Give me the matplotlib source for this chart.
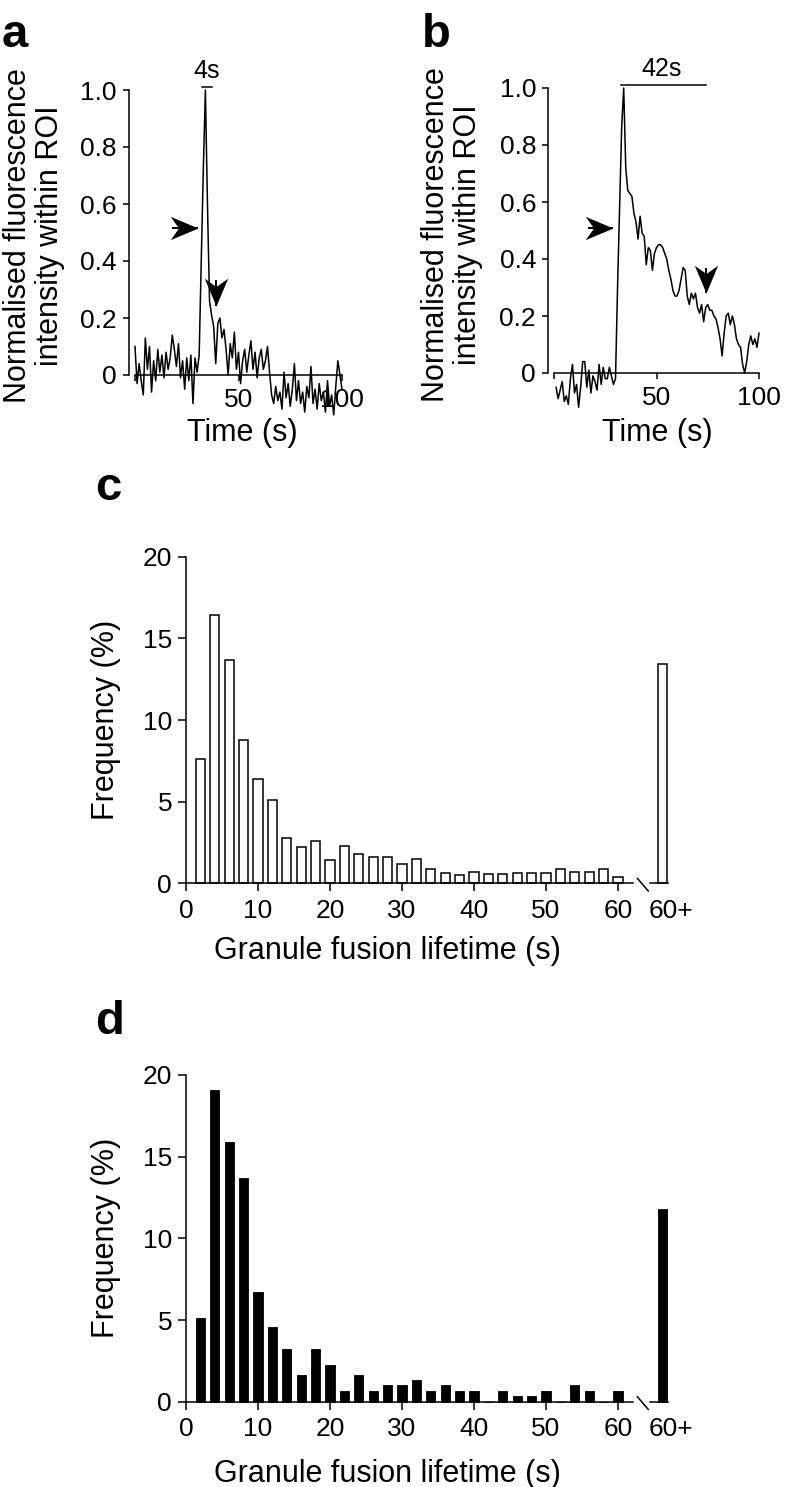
import numpy as np
import matplotlib
matplotlib.use('Agg')
import matplotlib.pyplot as plt
from matplotlib.path import Path

plt.rcParams['font.family'] = ['Liberation Sans', 'DejaVu Sans']

W, H = 786, 1487

# ---------------- data ----------------
time_a = np.arange(0, 101, 1)
trace_a = [0.10, -0.03, 0.04, -0.02, -0.07, 0.13, 0.02, 0.10, -0.06, 0.05,
           -0.02, 0.09, 0.01, 0.07, -0.01, 0.08, 0.02, 0.06, 0.14, 0.09,
           0.03, 0.11, -0.01, 0.05, -0.05, 0.06, -0.02, 0.07, -0.10, 0.06,
           0.01, 0.07, 0.40, 0.72, 1.00, 0.60, 0.26, 0.21, 0.17, 0.04,
           0.18, 0.20, 0.13, 0.16, 0.09, 0.00, 0.11, 0.06, 0.15, 0.02,
           0.08, -0.03, 0.05, 0.09, 0.01, 0.07, 0.12, 0.02, 0.08, -0.01,
           0.06, 0.09, 0.02, 0.05, 0.10, 0.01, -0.07, -0.10, -0.04, -0.09,
           -0.06, -0.12, 0.01, -0.08, -0.03, -0.11, -0.05, 0.04, -0.09, -0.02,
           -0.10, -0.06, -0.13, -0.04, -0.08, 0.03, -0.10, -0.05, -0.12, -0.03,
           -0.09, -0.06, -0.13, -0.02, -0.11, -0.07, -0.14, -0.04, 0.05, 0.00,
           -0.05]

time_b = np.arange(1, 101, 1)
trace_b = [-0.05, -0.09, -0.06, -0.03, -0.10, -0.08, -0.11, -0.02, 0.03, -0.07,
           -0.04, -0.12, -0.05, 0.04, 0.04, -0.05, 0.01, -0.07, -0.01, -0.03,
           -0.06, 0.03, -0.04, 0.02, -0.02, -0.02, 0.02, -0.01, -0.04, -0.02,
           0.30, 0.58, 0.86, 1.00, 0.72, 0.64, 0.63, 0.62, 0.56, 0.53,
           0.47, 0.55, 0.49, 0.48, 0.38, 0.44, 0.43, 0.36, 0.42, 0.44,
           0.45, 0.45, 0.44, 0.42, 0.40, 0.36, 0.33, 0.29, 0.27, 0.27,
           0.29, 0.33, 0.37, 0.36, 0.27, 0.24, 0.28, 0.26, 0.28, 0.23,
           0.21, 0.24, 0.18, 0.23, 0.24, 0.22, 0.22, 0.20, 0.19, 0.16,
           0.12, 0.06, 0.14, 0.20, 0.21, 0.17, 0.20, 0.17, 0.12, 0.10,
           0.09, 0.03, 0.00, 0.04, 0.10, 0.13, 0.10, 0.12, 0.09, 0.14]

bin_centers = np.arange(2, 61, 2)
freq_c = [7.6, 16.4, 13.7, 8.8, 6.4, 5.1, 2.75, 2.2, 2.6, 1.4,
          2.3, 1.8, 1.6, 1.6, 1.2, 1.5, 0.9, 0.65, 0.5, 0.7,
          0.55, 0.55, 0.65, 0.65, 0.65, 0.9, 0.7, 0.7, 0.9, 0.4]
freq_d = [5.1, 19.1, 15.9, 13.7, 6.7, 4.55, 3.25, 1.65, 3.25, 2.25,
          0.65, 1.65, 0.65, 1.0, 1.0, 1.3, 0.65, 1.0, 0.65, 0.65,
          0.0, 0.65, 0.33, 0.33, 0.65, 0.0, 1.0, 0.65, 0.0, 0.65]
overflow_c = 13.4
overflow_d = 11.8
overflow_label = '60+'

trace_yticks = [0, 0.2, 0.4, 0.6, 0.8, 1.0]
trace_yticklabels = ['0', '0.2', '0.4', '0.6', '0.8', '1.0']
trace_xticks = [0, 50, 100]
trace_xticklabels = ['', '50', '100']
hist_xticks = [0, 10, 20, 30, 40, 50, 60]
hist_yticks = [0, 5, 10, 15, 20]

# ---------------- helpers ----------------
fig = plt.figure(figsize=(W / 100, H / 100), dpi=100)
LW = 1.1


def px_axes(xlim, ylim, xref, yref):
    (v1, p1), (v2, p2) = xref
    sx = (p2 - p1) / (v2 - v1)
    l = p1 + (xlim[0] - v1) * sx
    r = p1 + (xlim[1] - v1) * sx
    (w1, q1), (w2, q2) = yref
    sy = (q2 - q1) / (w2 - w1)
    b = q1 + (ylim[0] - w1) * sy
    t = q1 + (ylim[1] - w1) * sy
    ax = fig.add_axes([l / W, 1 - b / H, (r - l) / W, (b - t) / H])
    ax.set_xlim(*xlim)
    ax.set_ylim(*ylim)
    ax.patch.set_visible(False)
    return ax


def ftext(x, y, s, **kw):
    fig.text(x / W, 1 - y / H, s, **kw)


def style_trace_axes(ax):
    for s in ['top', 'right']:
        ax.spines[s].set_visible(False)
    ax.spines['left'].set_bounds(0, 1)
    ax.spines['bottom'].set_position(('data', 0))
    ax.spines['bottom'].set_bounds(0, 100)
    for s in ['left', 'bottom']:
        ax.spines[s].set_linewidth(LW)
    ax.set_yticks(trace_yticks)
    ax.set_yticklabels(trace_yticklabels)
    ax.set_xticks(trace_xticks)
    ax.set_xticklabels(trace_xticklabels)
    ax.tick_params(axis='both', direction='out', length=4.5, width=LW,
                   labelsize=19)
    ax.tick_params(axis='y', pad=4)
    ax.tick_params(axis='x', pad=5)


HEAD_RIGHT = Path([(0, 0), (-1, 0.42), (-0.70, 0), (-1, -0.42), (0, 0)],
                  [Path.MOVETO, Path.LINETO, Path.LINETO, Path.LINETO, Path.CLOSEPOLY])
HEAD_DOWN = Path([(0, 0), (0.42, 1), (0, 0.70), (-0.42, 1), (0, 0)],
                 [Path.MOVETO, Path.LINETO, Path.LINETO, Path.LINETO, Path.CLOSEPOLY])


def arrow(ax, tip, tail, head):
    ax.plot([tail[0], tip[0]], [tail[1], tip[1]], color='black', lw=1.4,
            solid_capstyle='butt', clip_on=False)
    ax.plot([tip[0]], [tip[1]], marker=head, markersize=40, color='black',
            markeredgewidth=0, linestyle='none', clip_on=False)


# ---------------- panel a ----------------
ax_a = px_axes((-3, 103), (-0.17, 1.08), ((0, 135), (100, 342)), ((0, 375), (1, 90)))
style_trace_axes(ax_a)
ax_a.plot(time_a, trace_a, color='black', lw=LW, clip_on=False)
ax_a.plot([32.2, 37.0], [1.012, 1.012], color='black', lw=LW, clip_on=False)
ax_a.text(34.6, 1.025, '4s', ha='center', va='bottom', fontsize=18)
arrow(ax_a, (30.6, 0.515), (17.7, 0.515), HEAD_RIGHT)
arrow(ax_a, (39.1, 0.242), (39.1, 0.335), HEAD_DOWN)

# ---------------- panel b ----------------
ax_b = px_axes((-3, 103), (-0.17, 1.08), ((0, 554), (100, 759)), ((0, 373), (1, 88)))
style_trace_axes(ax_b)
ax_b.plot(time_b, trace_b, color='black', lw=LW, clip_on=False)
ax_b.plot([32.5, 74.1], [1.01, 1.01], color='black', lw=LW, clip_on=False)
ax_b.text(52.7, 1.025, '42s', ha='center', va='bottom', fontsize=18)
arrow(ax_b, (28.9, 0.51), (16.7, 0.51), HEAD_RIGHT)
arrow(ax_b, (74.1, 0.28), (74.1, 0.37), HEAD_DOWN)

# trace labels
for cx, cy in [(34, 236), (452, 235)]:
    ftext(cx, cy, 'Normalised fluorescence\nintensity within ROI', rotation=90,
          ha='center', va='center', fontsize=22, linespacing=1.05,
          multialignment='center')
ftext(242, 433, 'Time (s)', ha='center', va='center', fontsize=22)
ftext(657, 433, 'Time (s)', ha='center', va='center', fontsize=22)


# ---------------- histograms ----------------
def hist_panel(y0px, y20px, freq, overflow, filled):
    ax = px_axes((0, 70), (0, 21), ((0, 186), (10, 258)), ((0, y0px), (20, y20px)))
    for s in ['top', 'right']:
        ax.spines[s].set_visible(False)
    ax.spines['left'].set_bounds(0, 20)
    ax.spines['bottom'].set_bounds(0, 62.1)
    for s in ['left', 'bottom']:
        ax.spines[s].set_linewidth(LW)
    fc = 'black' if filled else 'white'
    elw = 0.6 if filled else LW
    ax.bar(bin_centers, freq, width=1.3, facecolor=fc, edgecolor='black',
           linewidth=elw, clip_on=False)
    ax.bar([66.2], [overflow], width=1.3, facecolor=fc, edgecolor='black',
           linewidth=elw, clip_on=False)
    # axis break
    ax.plot([62.7, 64.2], [0.3, -0.47], color='black', lw=LW, clip_on=False)
    ax.plot([64.5, 67.0], [0, 0], color='black', lw=LW, clip_on=False)
    ax.set_xticks(hist_xticks + [67.4])
    ax.set_xticklabels([str(v) for v in hist_xticks] + [overflow_label])
    ax.set_yticks(hist_yticks)
    ax.set_yticklabels([str(v) for v in hist_yticks])
    ax.tick_params(axis='both', direction='out', length=6, width=LW,
                   labelsize=19)
    ax.tick_params(axis='x', pad=5)
    ax.tick_params(axis='y', pad=4)
    ax.xaxis.get_major_ticks()[-1].tick1line.set_visible(False)
    return ax


ax_c = hist_panel(883.3, 556.7, freq_c, overflow_c, False)
ax_d = hist_panel(1401.7, 1075.0, freq_d, overflow_d, True)

ftext(106, 720, 'Frequency (%)', rotation=90, ha='center', va='center', fontsize=22)
ftext(106, 1238, 'Frequency (%)', rotation=90, ha='center', va='center', fontsize=22)
ftext(387, 951, 'Granule fusion lifetime (s)', ha='center', va='center', fontsize=22)
ftext(387, 1474, 'Granule fusion lifetime (s)', ha='center', va='center', fontsize=22)

# panel letters
for x, y, s in [(2, 47, 'a'), (422, 47, 'b'), (95, 500, 'c'), (95, 1034, 'd')]:
    ftext(x, y, s, ha='left', va='baseline', fontsize=34, fontweight='bold')

fig.savefig('out.png', dpi=100)
